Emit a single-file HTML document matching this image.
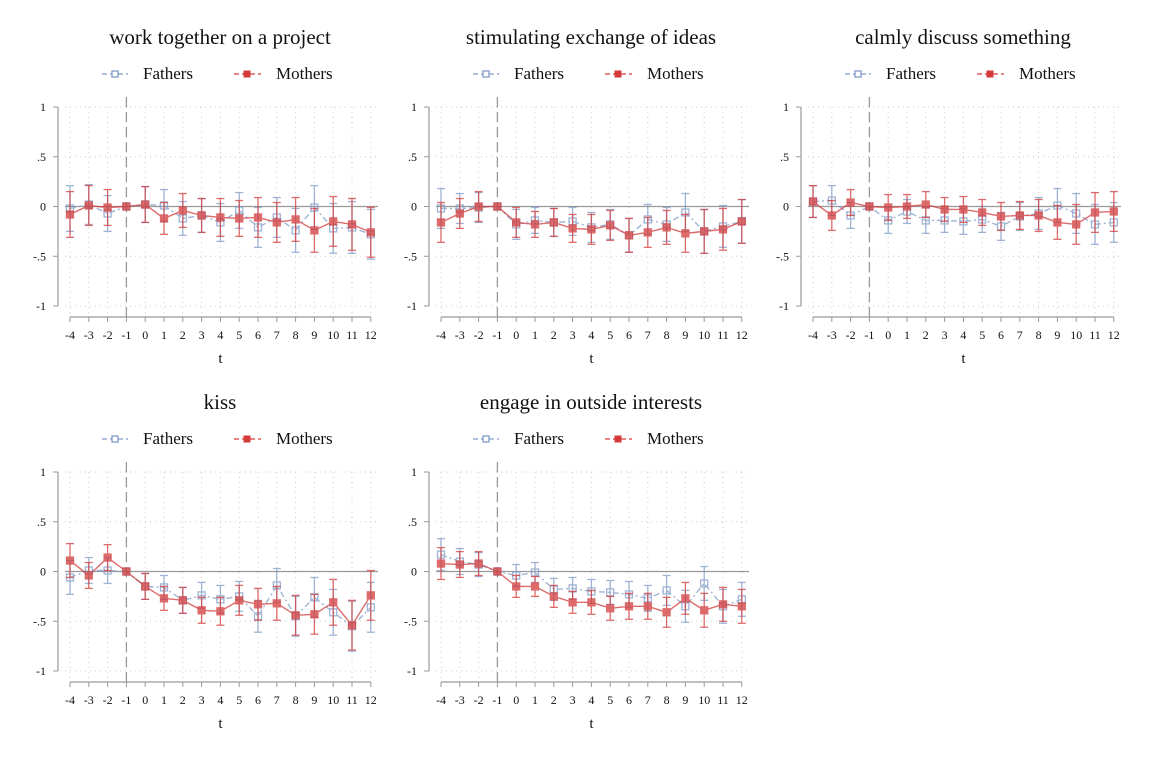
<!DOCTYPE html>
<html><head><meta charset="utf-8"><style>
body{margin:0;background:#fff;}
svg{display:block;font-family:"Liberation Serif",serif;}
</style></head><body>
<svg id="chart" width="1149" height="766" viewBox="0 0 1149 766"></svg>
<script>
const tVals=[-4,-3,-2,-1,0,1,2,3,4,5,6,7,8,9,10,11,12];
const yTicks=[1,0.5,0,-0.5,-1];
const yTickLabels=["1",".5","0","-.5","-1"];
const titles=["work together on a project","stimulating exchange of ideas","calmly discuss something","kiss","engage in outside interests"];
const fathers1=[-0.02,0.02,-0.07,0,0.02,0.01,-0.12,-0.09,-0.16,-0.04,-0.21,-0.11,-0.24,-0.01,-0.22,-0.21,-0.28];
const mothers1=[-0.08,0.01,-0.01,0,0.02,-0.12,-0.04,-0.09,-0.11,-0.12,-0.11,-0.16,-0.13,-0.24,-0.15,-0.18,-0.26];
const ci1=[0.23,0.2,0.18,0,0.18,0.16,0.17,0.17,0.19,0.18,0.2,0.2,0.22,0.22,0.25,0.26,0.25];
const fathers2=[-0.02,-0.02,-0.01,0,-0.18,-0.14,-0.16,-0.15,-0.21,-0.18,-0.29,-0.13,-0.18,-0.06,-0.25,-0.20,-0.15];
const mothers2=[-0.16,-0.07,0,0,-0.16,-0.18,-0.16,-0.22,-0.23,-0.19,-0.29,-0.26,-0.21,-0.27,-0.25,-0.23,-0.15];
const ci2=[0.2,0.15,0.15,0,0.15,0.13,0.14,0.14,0.15,0.15,0.17,0.15,0.17,0.19,0.22,0.21,0.22];
const fathers3=[0.05,0.06,-0.09,0,-0.14,-0.05,-0.14,-0.14,-0.15,-0.13,-0.2,-0.1,-0.07,0.01,-0.07,-0.18,-0.16];
const mothers3=[0.05,-0.09,0.04,0,-0.01,0,0.02,-0.03,-0.03,-0.06,-0.1,-0.09,-0.09,-0.16,-0.18,-0.06,-0.05];
const ci3=[0.16,0.15,0.13,0,0.13,0.12,0.13,0.12,0.13,0.13,0.14,0.14,0.16,0.17,0.2,0.2,0.2];
const fathers4=[-0.06,0.01,0.01,0,-0.15,-0.16,-0.29,-0.24,-0.28,-0.25,-0.45,-0.14,-0.45,-0.26,-0.41,-0.55,-0.36];
const mothers4=[0.11,-0.04,0.14,0,-0.15,-0.27,-0.29,-0.39,-0.40,-0.29,-0.33,-0.32,-0.44,-0.43,-0.31,-0.54,-0.24];
const ci4=[0.17,0.13,0.13,0,0.13,0.12,0.13,0.13,0.14,0.15,0.16,0.17,0.2,0.2,0.23,0.25,0.25];
const fathers5=[0.17,0.1,0.07,0,-0.04,-0.01,-0.18,-0.17,-0.2,-0.21,-0.23,-0.27,-0.19,-0.35,-0.12,-0.35,-0.28];
const mothers5=[0.08,0.07,0.08,0,-0.15,-0.15,-0.25,-0.31,-0.31,-0.37,-0.35,-0.35,-0.41,-0.27,-0.39,-0.33,-0.35];
const ci5=[0.16,0.13,0.12,0,0.11,0.1,0.11,0.11,0.12,0.12,0.13,0.13,0.15,0.16,0.17,0.17,0.17];
const fathersAll=[fathers1,fathers2,fathers3,fathers4,fathers5];
const mothersAll=[mothers1,mothers2,mothers3,mothers4,mothers5];
const ciAll=[ci1,ci2,ci3,ci4,ci5];

const NS="http://www.w3.org/2000/svg";
const svg=document.getElementById('chart');
function mk(tag,attrs,parent,text){const e=document.createElementNS(NS,tag);for(const k in attrs)e.setAttribute(k,attrs[k]);if(text!==undefined)e.textContent=text;parent.appendChild(e);return e;}
const BLUE="#7f9cc8",RED="#d43a3a";
const offsets=[[0,0],[371,0],[743,0],[0,365],[371,365]];
titles.forEach((title,p)=>{
  const [ox,oy]=offsets[p];
  const xs=v=>ox+70+(v+4)*18.8;
  const ys=v=>oy+206.5-v*99.5;
  const g=mk('g',{},svg);
  
  
  const cx=ox+220;
  const tt=mk('text',{x:cx,y:oy+44,'text-anchor':'middle','font-size':21,fill:'#111'},g,title);
  
  
  const lg=mk('g',{},g);
  
  
  mk('line',{x1:cx-118,x2:cx-92,y1:oy+74,y2:oy+74,stroke:BLUE,'stroke-width':1.3,'stroke-dasharray':'5 3'},lg);
  mk('rect',{x:cx-108,y:oy+71,width:6,height:6,fill:'#fff',stroke:BLUE,'stroke-width':1.3},lg);
  mk('text',{x:cx-77,y:oy+79,'font-size':17,fill:'#111'},lg,'Fathers');
  mk('line',{x1:cx+14,x2:cx+41,y1:oy+74,y2:oy+74,stroke:RED,'stroke-width':1.3,'stroke-dasharray':'5 3'},lg);
  mk('rect',{x:cx+24,y:oy+71,width:6,height:6,fill:RED,stroke:RED,'stroke-width':1},lg);
  mk('text',{x:cx+56,y:oy+79,'font-size':17,fill:'#111'},lg,'Mothers');
  const x0=ox+65,x1=ox+378;
  yTicks.forEach(v=>mk('line',{x1:x0,x2:x1,y1:ys(v),y2:ys(v),stroke:'#ccc','stroke-width':1,'stroke-dasharray':'1 4'},g));
  tVals.forEach(v=>mk('line',{x1:xs(v),x2:xs(v),y1:ys(1),y2:ys(-1)+8,stroke:'#ccc','stroke-width':1,'stroke-dasharray':'1 4'},g));
  mk('line',{x1:ox+58,x2:ox+58,y1:ys(1),y2:ys(-1),stroke:'#999','stroke-width':1.2},g);
  yTicks.forEach((v,i)=>{mk('line',{x1:ox+53,x2:ox+58,y1:ys(v),y2:ys(v),stroke:'#999'},g);
    mk('text',{x:ox+46,y:ys(v)+4,'text-anchor':'end','font-size':12,fill:'#111'},g,yTickLabels[i]);});
  const axY=oy+317;
  mk('line',{x1:xs(-4),x2:xs(12),y1:axY,y2:axY,stroke:'#999','stroke-width':1.2},g);
  tVals.forEach(v=>{mk('line',{x1:xs(v),x2:xs(v),y1:axY,y2:axY+5,stroke:'#999'},g);
    mk('text',{x:xs(v),y:axY+22,'text-anchor':'middle','font-size':12,fill:'#111'},g,String(v));});
  mk('text',{x:xs(4),y:axY+46,'text-anchor':'middle','font-size':15,fill:'#111'},g,'t');
  mk('line',{x1:x0,x2:x1,y1:ys(0),y2:ys(0),stroke:'#999','stroke-width':1.3},g);
  mk('line',{x1:xs(-1),x2:xs(-1),y1:ys(1)-10,y2:axY,stroke:'#999','stroke-width':1.3,'stroke-dasharray':'10 5'},g);
  const series=[[fathersAll[p],BLUE,false,'fathers'],[mothersAll[p],RED,true,'mothers']];
  series.forEach(([vals,col,fill,nm])=>{
    const sg=mk('g',{opacity:0.75},g);
    
    
    const ci=ciAll[p];
    vals.forEach((v,i)=>{if(ci[i]>0){const x=xs(tVals[i]);
      mk('line',{x1:x,x2:x,y1:ys(v+ci[i]),y2:ys(v-ci[i]),stroke:col,'stroke-width':1.3},sg);
      mk('line',{x1:x-4,x2:x+4,y1:ys(v+ci[i]),y2:ys(v+ci[i]),stroke:col,'stroke-width':1.3},sg);
      mk('line',{x1:x-4,x2:x+4,y1:ys(v-ci[i]),y2:ys(v-ci[i]),stroke:col,'stroke-width':1.3},sg);}});
    mk('polyline',{points:vals.map((v,i)=>xs(tVals[i])+','+ys(v)).join(' '),fill:'none',stroke:col,'stroke-width':1.4,'stroke-dasharray':fill?'':'6 3 2 3'},sg);
    vals.forEach((v,i)=>{const r=mk('rect',{x:xs(tVals[i])-3.5,y:ys(v)-3.5,width:7,height:7,fill:fill?col:'none',stroke:col,'stroke-width':1.3},sg);
      
      });
  });
});
</script>
</body></html>
